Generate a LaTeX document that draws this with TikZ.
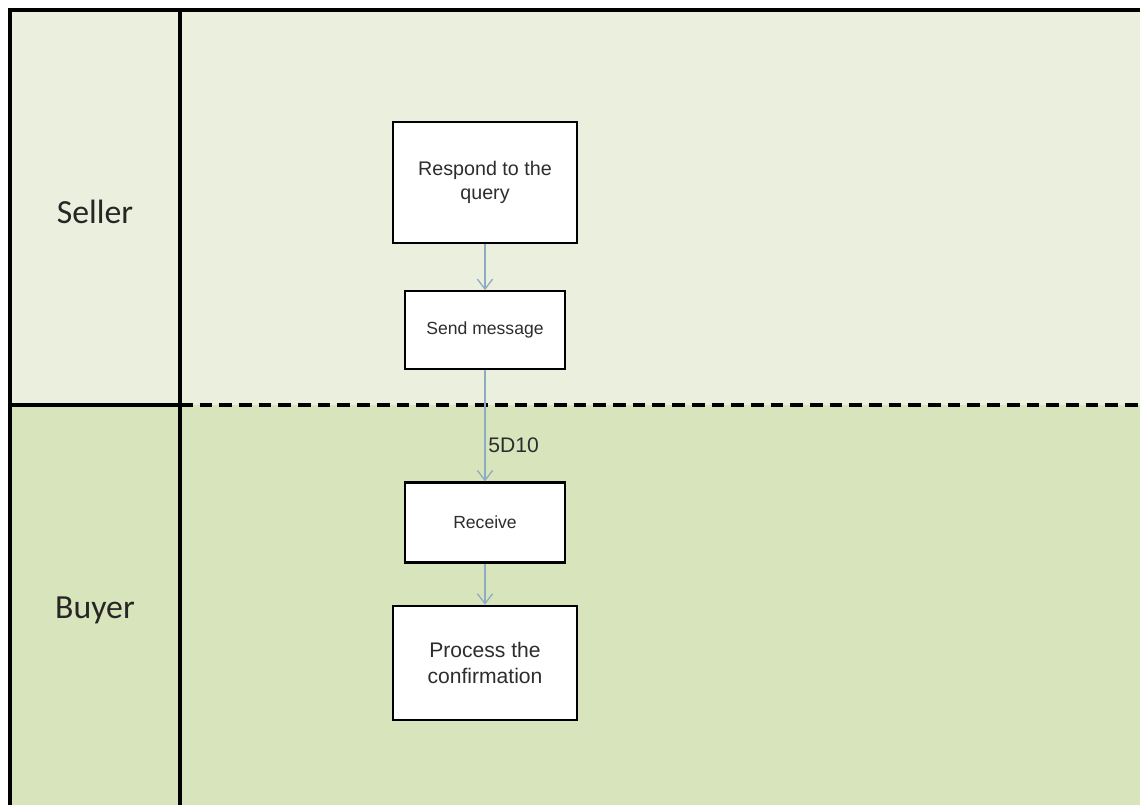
\documentclass[tikz,border=0pt]{standalone}
\usepackage{fontspec}
\setmainfont{Liberation Sans}
\newfontfamily\lanefont{Carlito}
\usetikzlibrary{arrows.meta,positioning}
\definecolor{SellerLane}{RGB}{234,240,221}
\definecolor{BuyerLane}{RGB}{216,228,188}
\definecolor{FlowArrow}{RGB}{143,170,195}
\definecolor{BoxText}{RGB}{45,45,45}

\begin{document}
\begin{tikzpicture}[
    x=0.025cm,y=-0.025cm,
    node distance=1.2cm,
    task/.style={draw=black,line width=1.6pt,fill=white,align=center,text=BoxText,inner sep=2pt},
    bigtask/.style={task,minimum width=4.6cm},
    smalltask/.style={task,minimum width=4cm,minimum height=2cm,font=\fontsize{12.5}{15}\selectfont},
    lane/.style={font=\lanefont\fontsize{24}{28}\selectfont,text=black!85},
    arr/.style={-{Straight Barb[length=2.5mm,width=3.8mm]},line width=0.9pt,draw=FlowArrow}
  ]
    \useasboundingbox (0,0) rectangle (1140,805);
    % lanes
    \fill[SellerLane] (10,10) rectangle (1140,405);
    \fill[BuyerLane] (10,405) rectangle (1140,805);
    \draw[line width=2.4pt] (10,805) -- (10,10) -- (1140,10);
    \draw[line width=2.4pt] (180,10) -- (180,805);
    \draw[line width=2.4pt] (10,405) -- (180,405);
    \draw[line width=2.4pt,dash pattern=on 9pt off 5pt] (180,405) -- (1140,405);
    \node[lane] (seller) at (95,212) {Seller};
    \node[lane] (buyer) at (95,610) {Buyer};

    % tasks
    \node[bigtask,minimum height=3.025cm,font=\fontsize{14}{17}\selectfont] (respond) at (485,182.5) {Respond to the\\query};
    \node[smalltask,minimum height=1.95cm,below=1.15cm of respond] (send) {Send message};
    \node[smalltask,below=2.775cm of send] (receive) {Receive};
    \node[bigtask,minimum height=2.85cm,font=\fontsize{15}{18}\selectfont,below=1.025cm of receive] (process) {Process the\\confirmation};

    \draw[arr] (respond) -- (send);
    \draw[arr] (send) -- node[right=1pt,pos=0.67,inner sep=1pt,font=\fontsize{15}{18}\selectfont,text=BoxText] (msgid) {5D10} (receive);
    \draw[arr] (receive) -- (process);
  \end{tikzpicture}
\end{document}
